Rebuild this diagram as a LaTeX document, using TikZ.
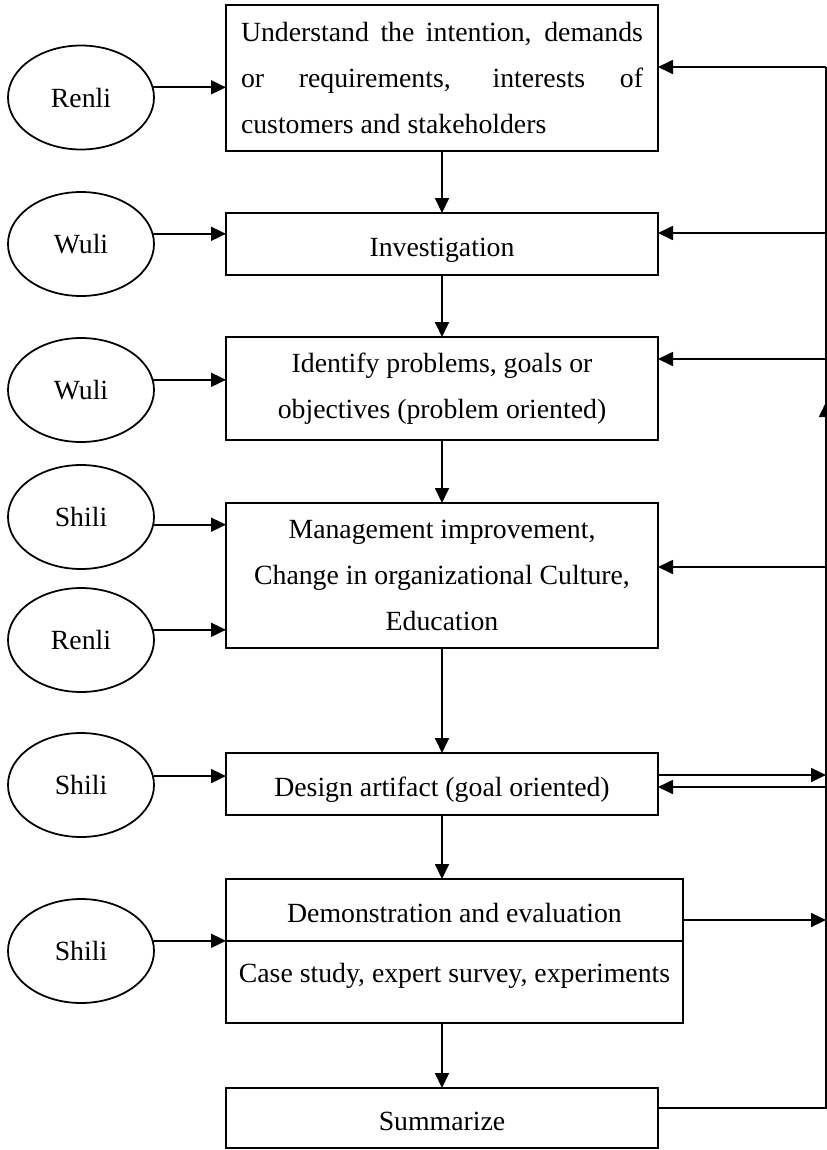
\documentclass[tikz,border=0pt]{standalone}
\usepackage{fontspec}
\setmainfont{Liberation Serif}
\usetikzlibrary{arrows.meta,positioning,shapes.geometric}
\begin{document}
\begin{tikzpicture}[line width=1pt,
  font=\fontsize{15.8}{26}\selectfont,
  proc/.style={draw,rectangle,outer sep=0pt,minimum width=8.64cm,align=center},
  oneline/.style={text height=.6cm,text depth=.1cm},
  role/.style={draw,ellipse,minimum width=2.92cm,minimum height=2.08cm,inner sep=0pt},
  arr/.style={-{Triangle[length=.3cm,width=.28cm]}}]
\useasboundingbox (0,0) rectangle (16.54,-23);

\node[proc,minimum height=2.92cm,text width=8.04cm,align=justify] (understand) at (8.84,-1.56)
  {Understand the intention, demands\linebreak or requirements, interests of\linebreak customers and stakeholders};
\node[proc,oneline,minimum height=1.24cm] (investigation) at (8.84,-4.88) {Investigation};
\node[proc,minimum height=2.06cm] (identify) at (8.84,-7.77) {Identify problems, goals or\\objectives (problem oriented)};
\node[proc,minimum height=2.90cm] (manage) at (8.84,-11.51) {Management improvement,\\Change in organizational Culture,\\Education};
\node[proc,oneline,minimum height=1.24cm] (design) at (8.84,-15.68) {Design artifact (goal oriented)};
\node[proc,oneline,minimum width=9.14cm,minimum height=1.24cm] (demo) at (9.09,-18.20) {Demonstration and evaluation};
\node[proc,minimum width=9.14cm,inner ysep=0pt,text height=.82cm,text depth=.82cm,below=0pt of demo] (cases) {Case study, expert survey, experiments};
\node[proc,oneline,minimum height=1.20cm] (summarize) at (8.84,-22.36) {Summarize};

\node[role] (renli1) at (1.62,-1.95) {Renli};
\node[role] (wuli1) at (1.62,-4.88) {Wuli};
\node[role] (wuli2) at (1.62,-7.80) {Wuli};
\node[role] (shili1) at (1.62,-10.34) {Shili};
\node[role] (renli2) at (1.62,-12.80) {Renli};
\node[role] (shili2) at (1.62,-15.70) {Shili};
\node[role] (shili3) at (1.62,-19.02) {Shili};

\foreach \r/\b/\a in {renli1/understand/8,wuli1/investigation/8,wuli2/identify/8,shili1/manage/-6,renli2/manage/8,shili2/design/7,shili3/demo/8}
  \draw[arr] (\r.\a) -- (\r.\a -| \b.west);

\draw[arr] (understand) -- (investigation);
\draw[arr] (investigation) -- (identify);
\draw[arr] (identify) -- (manage);
\draw[arr] (manage) -- (design);
\draw[arr] (design.south) -- (design.south |- demo.north);
\draw[arr] (cases.south -| summarize.north) -- (summarize.north);

% feedback rail on the right
\coordinate (rail) at (16.52,-1.34);
\coordinate (rail up) at (16.52,-8.04);
\draw ([yshift=.2cm]summarize.east) -| (rail);
\draw[arr] ([yshift=-.5cm]rail up) -- (rail up);
\foreach \n/\d in {understand/.22,investigation/.22,identify/.59,manage/.17,design/-.06}{
  \coordinate (back) at ([yshift=\d cm]\n.east);
  \draw[arr] (back -| rail) -- (back);
}
\foreach \n/\d in {design/.18,demo/-.20}{
  \coordinate (out) at ([yshift=\d cm]\n.east);
  \draw[arr] (out) -- (out -| rail);
}
\end{tikzpicture}
\end{document}
